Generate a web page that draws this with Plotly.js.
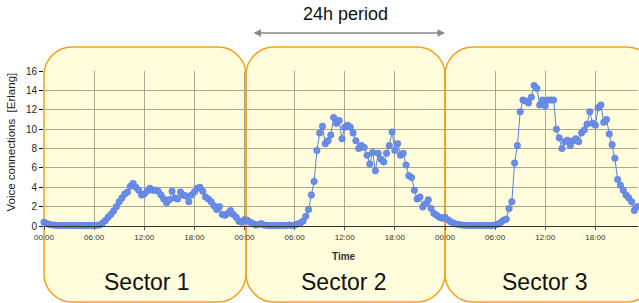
<!DOCTYPE html>
<html>
<head>
<meta charset="utf-8">
<script src="https://cdn.plot.ly/plotly-3.0.1.min.js"></script>
<style>html,body{margin:0;padding:0;background:#fff;}#chart{width:639px;height:303px;}</style>
</head>
<body>
<div id="chart"></div>
<script>
// Voice connections [Erlang], sampled every 20 minutes
const stepMinutes = 20;
const day1 = [
 0.4,0.25,0.15, 0.1,0.08,0.05, 0.05,0.05,0.05, 0.05,0.04,0.05,
 0.05,0.05,0.04, 0.05,0.05,0.05, 0.06,0.08,0.1, 0.3,0.55,0.9,
 1.2,1.55,2.0, 2.5,2.9,3.3, 3.5,4.1,4.4, 4.0,3.7,3.2,
 3.3,3.6,3.9, 3.7,3.7,3.6, 3.2,2.8,2.4, 2.7,3.6,2.9,
 2.8,3.5,3.2, 3.1,2.5,3.2, 3.5,3.9,4.0, 3.6,3.0,2.8,
 2.5,2.1,1.7, 2.0,1.2,1.1, 1.3,1.6,1.2, 0.9,0.5,0.4
];
const day2 = [
 0.65,0.6,0.4, 0.25,0.1,0.15, 0.25,0.1,0.05, 0.05,0.05,0.05,
 0.05,0.05,0.05, 0.05,0.1,0.05, 0.1,0.2,0.3, 0.5,1.0,1.7,
 3.2,4.6,7.8, 9.6,10.3,8.5, 8.8,9.4,11.2, 10.6,10.9,9.0,
 10.2,10.4,10.2, 9.6,8.8,8.0, 8.3,8.1,7.3, 6.4,7.6,5.7,
 7.5,6.9,6.6, 7.5,8.3,9.7, 7.8,8.5,7.3, 7.5,6.3,5.2,
 5.0,3.7,2.8, 3.0,1.95,2.3, 2.7,1.8,1.3, 1.1,0.9,0.8
];
const day3 = [
 0.9,0.65,0.45, 0.3,0.2,0.15, 0.1,0.07,0.05, 0.05,0.05,0.05,
 0.05,0.05,0.05, 0.05,0.05,0.06, 0.1,0.2,0.35, 0.6,0.7,1.8,
 2.5,6.5,8.3, 11.8,13.0,12.9, 12.7,13.3,14.5, 14.2,12.5,13.0,
 12.4,13.0,13.0, 13.0,10.0,9.1, 8.0,8.7,8.85, 8.3,8.8,9.0,
 8.7,9.6,9.9, 10.5,11.8,10.6, 10.4,12.2,12.5, 10.7,11.0,9.5,
 8.4,7.0,4.8, 4.2,3.7,3.2, 2.9,2.5,1.6, 2.0
];
const tickHours = [0,6,12,18,24,30,36,42,48,54,60,66];
const tickLabels = ['00:00','06:00','12:00','18:00','00:00','06:00','12:00','18:00','00:00','06:00','12:00','18:00'];
const sectorNames = ['Sector 1','Sector 2','Sector 3'];

const days = [day1, day2, day3];
const xs = [], ys = [];
days.forEach((d, di) => d.forEach((v, i) => { xs.push(di*24 + i*stepMinutes/60); ys.push(v); }));

// layout geometry (pixels)
const W = 639, H = 303, ML = 44, MR = 1, MT = 71, MB = 77;
const PW = W - ML - MR, PH = H - MT - MB;
const px = x => (x - ML) / PW;
const py = y => (MT + PH - y) / PH;
const P = (x, y) => px(x).toFixed(5) + ',' + py(y).toFixed(5);
function roundRect(x0, x1, y0, y1, r) {
  const k = 0.5523 * r;
  return 'M' + P(x0 + r, y0) + ' L' + P(x1 - r, y0) +
    ' C' + P(x1 - r + k, y0) + ' ' + P(x1, y0 + r - k) + ' ' + P(x1, y0 + r) +
    ' L' + P(x1, y1 - r) +
    ' C' + P(x1, y1 - r + k) + ' ' + P(x1 - r + k, y1) + ' ' + P(x1 - r, y1) +
    ' L' + P(x0 + r, y1) +
    ' C' + P(x0 + r - k, y1) + ' ' + P(x0, y1 - r + k) + ' ' + P(x0, y1 - r) +
    ' L' + P(x0, y0 + r) +
    ' C' + P(x0, y0 + r - k) + ' ' + P(x0 + r - k, y0) + ' ' + P(x0 + r, y0) + ' Z';
}
const boxes = [[44, 246], [246, 445], [445, 655]];
const boxTop = 47, boxBot = 302, rad = 28;
const shapes = [];
boxes.forEach(b => shapes.push({type:'path', xref:'paper', yref:'paper', layer:'below',
  path: roundRect(b[0], b[1], boxTop, boxBot, rad), fillcolor:'#FFFDDC', line:{width:0}}));
boxes.forEach(b => shapes.push({type:'path', xref:'paper', yref:'paper', layer:'between',
  path: roundRect(b[0], b[1], boxTop, boxBot, rad), fillcolor:'rgba(0,0,0,0)', line:{color:'#F5A11C', width:1.5}}));

const FONT = 'Liberation Sans, Arial, sans-serif';
const sectorX = [147, 344, 545];
const annotations = [
  {xref:'paper', yref:'paper', x:px(345), y:py(14), text:'24h period', showarrow:false,
   font:{family:FONT, size:18, color:'#111'}, xanchor:'center', yanchor:'middle'},
  {xref:'paper', yref:'paper', x:px(445), y:py(33), ax:252-445, ay:0, text:'', showarrow:true,
   arrowside:'end+start', arrowhead:2, arrowsize:1, arrowwidth:1.5, arrowcolor:'#888'},
  {xref:'paper', yref:'paper', x:px(344), y:py(256), text:'<b>Time</b>', showarrow:false,
   font:{family:FONT, size:10, color:'#333'}, xanchor:'center', yanchor:'middle'},
  {xref:'paper', yref:'paper', x:px(10), y:py(142.5), text:'Voice connections \u00a0[Erlang]', showarrow:false,
   textangle:-90, font:{family:FONT, size:11.5, color:'#222'}, xanchor:'center', yanchor:'middle'}
];
sectorNames.forEach((s, i) => annotations.push({xref:'paper', yref:'paper', x:px(sectorX[i]), y:py(282),
  text:s, showarrow:false, font:{family:FONT, size:23, color:'#111'}, xanchor:'center', yanchor:'middle'}));

const trace = {
  x: xs, y: ys, type:'scatter', mode:'lines+markers',
  line:{color:'#5b80e0', width:1},
  marker:{color:'#6a8ee8', size:6.5, line:{color:'#4f74dc', width:0.5}},
  hoverinfo:'skip', cliponaxis:false
};
const layout = {
  width:W, height:H, margin:{l:ML, r:MR, t:MT, b:MB, pad:0},
  paper_bgcolor:'#ffffff', plot_bgcolor:'rgba(0,0,0,0)', showlegend:false,
  font:{family:FONT},
  xaxis:{range:[0, PW/ (401/48)], tickvals:tickHours, ticktext:tickLabels, showgrid:true,
    gridcolor:'#aca890', gridwidth:1, zeroline:false, showline:true, linecolor:'#333', linewidth:1,
    ticks:'outside', ticklen:3, tickcolor:'#555', tickfont:{family:FONT, size:8, color:'#333'}},
  yaxis:{range:[0,16], dtick:2, showgrid:true, gridcolor:'#aca890', gridwidth:1, zeroline:false,
    showline:false, ticks:'outside', ticklen:4, tickcolor:'#111', tickfont:{family:FONT, size:10, color:'#222'}},
  shapes:shapes, annotations:annotations
};
Plotly.newPlot('chart', [trace], layout, {staticPlot:true, displayModeBar:false});
</script>
</body>
</html>
